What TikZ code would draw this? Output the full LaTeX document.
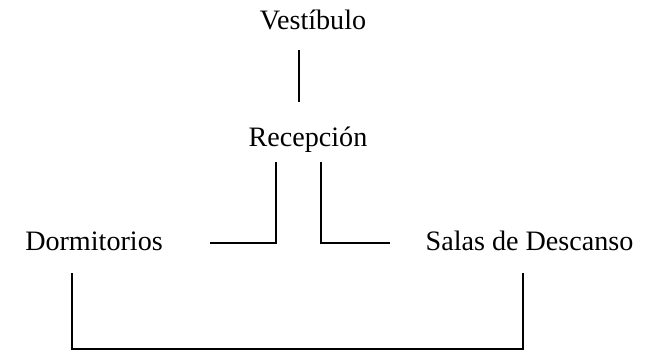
\documentclass[tikz,border=0pt]{standalone}
\usepackage{fontspec}
\setmainfont{Liberation Serif}

\begin{document}
\begin{tikzpicture}[x=0.025cm,y=-0.025cm,line width=1.4pt,
  lbl/.style={anchor=base,inner sep=0pt,font=\fontsize{20}{24}\selectfont}]
  \useasboundingbox (0,0) rectangle (654,351);
  \node[lbl] (vest)  at (313,29)    {Vestíbulo};
  \node[lbl] (recep) at (308,146)   {Recepción};
  \node[lbl] (dorm)  at (94,250)    {Dormitorios};
  \node[lbl] (salas) at (529.5,250) {Salas de Descanso};
  % free ends of the connectors
  \coordinate (vestout)  at (299,50);
  \coordinate (recepin)  at (299,102);
  \coordinate (recepl)   at (276,162);
  \coordinate (recepr)   at (321,162);
  \coordinate (dormin)   at (210,243);
  \coordinate (salasin)  at (390,243);
  \coordinate (dormout)  at (72,273);
  \coordinate (salasout) at (523,273);
  \draw (vestout) -- (recepin);
  \draw (recepl) |- (dormin);
  \draw (recepr) |- (salasin);
  \draw (dormout) -- (72,349) -| (salasout);
\end{tikzpicture}
\end{document}
